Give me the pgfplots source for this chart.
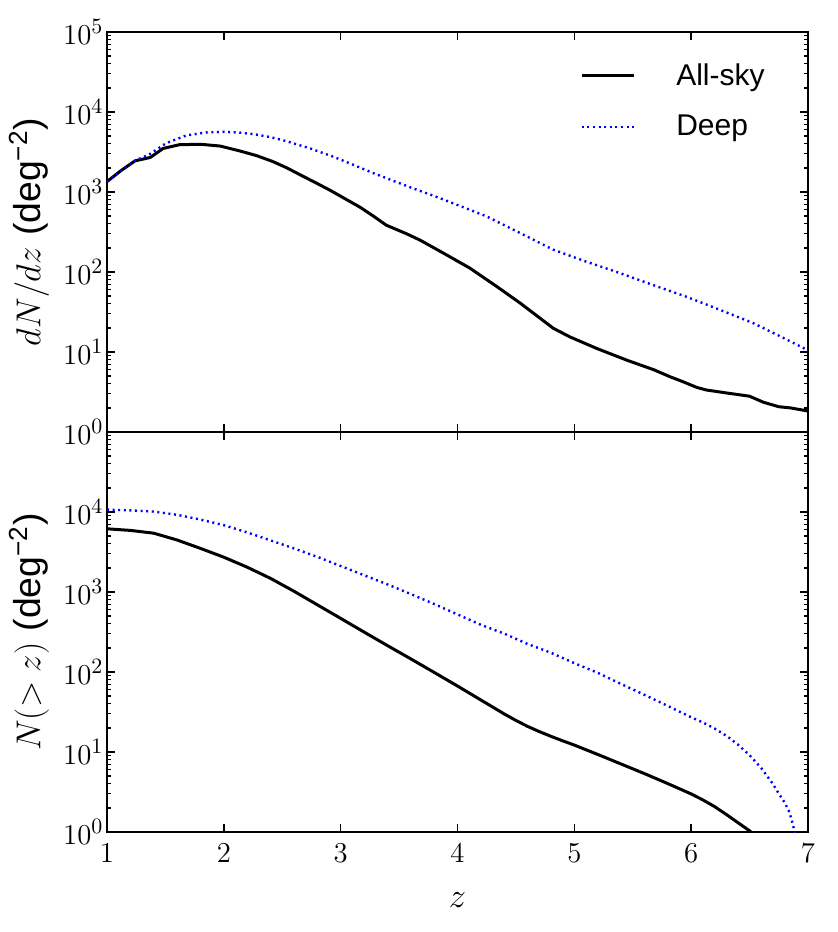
\documentclass[border=0pt]{standalone}
\usepackage{pgfplots}
\pgfplotsset{compat=1.18}
\usepackage{fontspec}
\newfontfamily\lib{Liberation Sans}
\tikzset{
  allsky/.style={black, line width=1.5pt},
  deep/.style={blue, line width=1.2pt, dash pattern=on 1pt off 1.8pt},
}
\begin{document}
\begin{tikzpicture}
\begin{axis}[at={(0,200pt)}, anchor=south west,
  scale only axis, width=350.5pt, height=200pt,
  xmin=1, xmax=7, ymode=log, log basis y=10, ymin=1, ymax=1e5,
  xtick={1,2,3,4,5,6,7},
  tick align=inside, xtick pos=both, ytick pos=both,
  major tick length=4pt, minor tick length=2.2pt,
  axis line style={line width=0.8pt},
  every tick/.style={black, line width=0.7pt},
  every minor tick/.style={black, line width=0.6pt},
  tick label style={font=\fontsize{15.5}{18}\selectfont},
  label style={font=\fontsize{18.7}{22}\selectfont},
  yticklabel style={xshift=1.7pt},
  ylabel style={at={(axis description cs:-0.111,0.5)}, anchor=center},
  xticklabels={},
  ylabel={$dN/dz$ {\lib (deg\textsuperscript{−2})}},
  legend style={draw=none, fill=none, at={(0.666,0.9325)}, anchor=north west,
    font=\lib\fontsize{15}{18}\selectfont, row sep=13.5pt,
    nodes={inner sep=0pt},
    /tikz/every odd column/.style={column sep=20.5pt}},
  legend cell align=left,
  legend image code/.code={\draw[#1] (0pt,0pt) -- (26pt,0pt);},
]
\addplot[allsky] coordinates {
(1.0,1350) (1.12,1850) (1.24,2450) (1.37,2700) (1.48,3500) (1.62,3900)
(1.80,3950) (1.97,3750) (2.14,3250) (2.28,2850) (2.42,2400) (2.54,2000)
(2.65,1650) (2.78,1320) (2.91,1050)
(3.04,820) (3.17,640) (3.28,500) (3.39,385) (3.565,300) (3.68,250) (3.88,172) (4.105,112)
(4.335,66) (4.535,41) (4.82,19.8) (4.96,15.5) (5.19,11.1) (5.45,7.9)
(5.68,6.0) (5.82,4.9) (5.93,4.25) (6.05,3.6) (6.13,3.35) (6.3,3.08)
(6.50,2.8) (6.62,2.35) (6.75,2.07) (6.85,2.0) (7.0,1.83)
};
\addlegendentry{All-sky}
\addplot[deep] coordinates {
(1.0,1350) (1.12,1850) (1.24,2450) (1.37,3000) (1.51,4100) (1.68,5100)
(1.85,5550) (2.0,5650) (2.12,5550) (2.25,5300) (2.40,4850) (2.54,4300)
(2.74,3500) (2.94,2750) (3.11,2180) (3.28,1720)
(3.45,1380) (3.62,1110) (3.82,870) (4.02,670) (4.25,495) (4.53,310) (4.82,190)
(5.1,135) (5.39,97) (5.67,69) (5.96,49) (6.25,33.5)
(6.53,23) (6.77,15.5) (7.0,10.5)
};
\addlegendentry{Deep}
\coordinate (TR) at (rel axis cs:1,1);
\end{axis}
\begin{axis}[at={(0,0)}, anchor=south west,
  scale only axis, width=350.5pt, height=200pt,
  xmin=1, xmax=7, ymode=log, log basis y=10, ymin=1, ymax=1e5,
  xtick={1,2,3,4,5,6,7},
  tick align=inside, xtick pos=both, ytick pos=both,
  major tick length=4pt, minor tick length=2.2pt,
  axis line style={line width=0.8pt},
  every tick/.style={black, line width=0.7pt},
  every minor tick/.style={black, line width=0.6pt},
  tick label style={font=\fontsize{15.5}{18}\selectfont},
  label style={font=\fontsize{18.7}{22}\selectfont},
  xticklabel style={yshift=-2.3pt},
  yticklabel style={xshift=1.7pt},
  ylabel style={at={(axis description cs:-0.111,0.5)}, anchor=center},
  yticklabel={\pgfmathtruncatemacro\tk{round(\tick)}\ifnum\tk<5 $10^{\tk}$\fi},
  xlabel={$z$},
  xlabel style={at={(axis description cs:0.5,-0.1875)}, anchor=base},
  ylabel={$N(>z)$ {\lib (deg\textsuperscript{−2})}},
]
\addplot[allsky] coordinates {
(1.0,6166) (1.2,5888) (1.4,5433) (1.6,4467) (1.8,3508) (2.0,2723)
(2.2,2042) (2.4,1479) (2.6,1023) (2.8,692) (3.0,468) (3.2,316)
(3.4,214) (3.6,146) (3.8,98.9) (4.0,66.8) (4.2,44.7) (4.4,29.9)
(4.5,24.8) (4.6,20.9) (4.7,18.0) (4.8,15.7) (4.9,13.8) (5.0,12.2)
(5.2,9.33) (5.4,7.08) (5.6,5.37) (5.8,4.03) (6.0,2.99) (6.1,2.52)
(6.2,2.08) (6.3,1.66) (6.4,1.31) (6.5,1.035) (6.55,0.89)
};
\addplot[deep] coordinates {
(1.0,10715) (1.2,10471) (1.4,10116) (1.6,9226) (1.8,8035) (2.0,6839)
(2.2,5559) (2.4,4416) (2.6,3508) (2.8,2754) (3.0,2113) (3.2,1622)
(3.4,1245) (3.6,944) (3.8,708) (4.0,525) (4.2,389) (4.4,302)
(4.6,224) (4.8,174) (5.0,129) (5.2,97.7) (5.4,70.8) (5.6,51.9)
(5.8,37.6) (6.0,27.2) (6.1,23.4) (6.2,19.7) (6.3,16.0) (6.4,12.4) (6.5,9.12)
(6.6,6.31) (6.7,3.98) (6.75,3.02) (6.8,2.34) (6.84,1.78) (6.87,1.26)
(6.885,1.0) (6.895,0.79)
};
\coordinate (BL) at (rel axis cs:0,0);
\end{axis}
\pgfresetboundingbox
\path[use as bounding box] ([xshift=-53.5pt,yshift=-50pt]BL) rectangle ([xshift=15pt,yshift=16pt]TR);
\end{tikzpicture}
\end{document}
